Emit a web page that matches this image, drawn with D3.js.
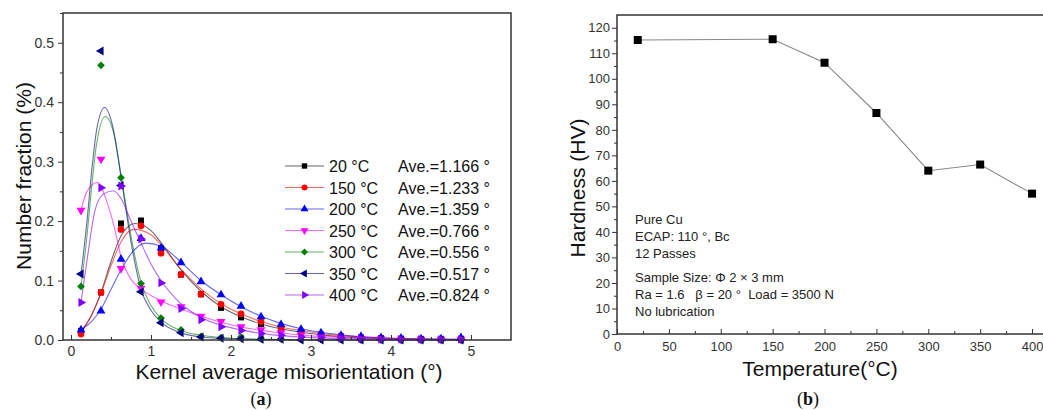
<!DOCTYPE html>
<html>
<head>
<meta charset="utf-8">
<script src="https://cdn.jsdelivr.net/npm/d3@7"></script>
<style>
  body { margin: 0; background: #fff; }
  svg { display: block; font-family: Arial, "Liberation Sans", sans-serif; }
</style>
</head>
<body>
<svg id="chart" width="1043" height="410"></svg>
<script>
// ---------- panel (a) data ----------
const binCenters = [0.125, 0.375, 0.625, 0.875, 1.125, 1.375, 1.625, 1.875, 2.125, 2.375,
                    2.625, 2.875, 3.125, 3.375, 3.625, 3.875, 4.125, 4.375, 4.625, 4.875];
const seriesNames = ["20 °C", "150 °C", "200 °C", "250 °C", "300 °C", "350 °C", "400 °C"];
const averages = ["Ave.=1.166 °", "Ave.=1.233 °", "Ave.=1.359 °", "Ave.=0.766 °", "Ave.=0.556 °", "Ave.=0.517 °", "Ave.=0.824 °"];

const frac20  = [0.015, 0.080, 0.196, 0.201, 0.154, 0.110, 0.077, 0.054, 0.038, 0.027, 0.018, 0.013, 0.009, 0.006, 0.004, 0.003, 0.002, 0.001, 0.001, 0.001];
const frac150 = [0.010, 0.080, 0.186, 0.192, 0.146, 0.110, 0.077, 0.060, 0.044, 0.031, 0.021, 0.015, 0.010, 0.007, 0.005, 0.003, 0.002, 0.001, 0.001, 0.001];
const frac200 = [0.017, 0.049, 0.136, 0.171, 0.155, 0.130, 0.098, 0.076, 0.057, 0.039, 0.026, 0.018, 0.012, 0.008, 0.006, 0.004, 0.003, 0.002, 0.002, 0.004];
const frac250 = [0.218, 0.304, 0.120, 0.087, 0.064, 0.056, 0.040, 0.031, 0.022, 0.017, 0.012, 0.008, 0.005, 0.003, 0.002, 0.002, 0.001, 0.001, 0.001, 0.001];
const frac300 = [0.090, 0.462, 0.273, 0.095, 0.037, 0.017, 0.006, 0.004, 0.005, 0.003, 0.002, 0.001, 0.001, 0.001, 0.000, 0.000, 0.000, 0.000, 0.000, 0.000];
const frac350 = [0.111, 0.486, 0.260, 0.081, 0.029, 0.012, 0.005, 0.003, 0.002, 0.001, 0.001, 0.000, 0.000, 0.000, 0.000, 0.000, 0.000, 0.000, 0.000, 0.000];
const frac400 = [0.063, 0.256, 0.259, 0.170, 0.096, 0.053, 0.034, 0.022, 0.016, 0.011, 0.008, 0.005, 0.004, 0.003, 0.002, 0.001, 0.001, 0.001, 0.001, 0.001];

// fitted curves as [misorientation, fraction]
const fit20  = [[0.125,0.015],[0.25,0.04],[0.375,0.08],[0.5,0.132],[0.625,0.175],[0.8,0.196],[1.0,0.184],[1.125,0.164],[1.375,0.118],[1.625,0.082],[1.875,0.056],[2.125,0.039],[2.375,0.027],[2.625,0.019],[2.875,0.013],[3.25,0.007],[3.75,0.003],[4.25,0.0015],[4.875,0.0005]];
const fit150 = [[0.125,0.012],[0.25,0.04],[0.375,0.078],[0.5,0.125],[0.625,0.165],[0.78,0.186],[1.0,0.177],[1.125,0.16],[1.375,0.119],[1.625,0.086],[1.875,0.061],[2.125,0.044],[2.375,0.031],[2.625,0.022],[2.875,0.016],[3.25,0.009],[3.75,0.004],[4.25,0.002],[4.875,0.001]];
const fit200 = [[0.125,0.017],[0.25,0.03],[0.375,0.052],[0.5,0.085],[0.625,0.118],[0.75,0.145],[0.93,0.163],[1.125,0.158],[1.375,0.131],[1.625,0.1],[1.875,0.076],[2.125,0.056],[2.375,0.04],[2.625,0.028],[2.875,0.019],[3.125,0.013],[3.5,0.007],[4.0,0.003],[4.5,0.0015],[4.875,0.001]];
const fit250 = [[0.125,0.218],[0.2,0.25],[0.33,0.265],[0.45,0.232],[0.55,0.185],[0.625,0.14],[0.75,0.102],[0.875,0.086],[1.125,0.066],[1.375,0.052],[1.625,0.04],[1.875,0.03],[2.125,0.022],[2.5,0.014],[3.0,0.007],[3.5,0.004],[4.0,0.002],[4.875,0.0007]];
const fit300 = [[0.125,0.09],[0.2,0.175],[0.26,0.26],[0.32,0.33],[0.43,0.376],[0.53,0.35],[0.64,0.265],[0.75,0.175],[0.875,0.097],[1.0,0.058],[1.125,0.036],[1.375,0.016],[1.625,0.008],[2.0,0.003],[2.5,0.001],[3.0,0.0003],[4.875,0]];
const fit350 = [[0.125,0.11],[0.2,0.2],[0.26,0.286],[0.32,0.353],[0.42,0.391],[0.52,0.36],[0.63,0.27],[0.75,0.165],[0.875,0.085],[1.0,0.05],[1.125,0.03],[1.375,0.012],[1.625,0.005],[2.0,0.002],[2.5,0.0005],[3.0,0],[4.875,0]];
const fit400 = [[0.125,0.063],[0.2,0.134],[0.3,0.218],[0.4,0.245],[0.53,0.251],[0.625,0.238],[0.75,0.2],[0.875,0.163],[1.0,0.128],[1.125,0.1],[1.375,0.061],[1.625,0.038],[1.875,0.025],[2.125,0.017],[2.5,0.009],[3.0,0.004],[3.5,0.002],[4.0,0.001],[4.875,0.0003]];

// ---------- panel (b) data ----------
const temps = [20, 150, 200, 250, 300, 350, 400];
const hardness = [115.2, 115.5, 106.3, 86.6, 64.0, 66.4, 55.0];
const noteLines = ["Pure Cu", "ECAP: 110 °, Bc", "12 Passes", "Sample Size: Φ 2 × 3 mm", "Ra = 1.6   β = 20 °  Load = 3500 N", "No lubrication"];

const colors = ["#000000", "#ff0000", "#0000ff", "#ff00ff", "#008000", "#000080", "#8000ff"];
const symbols = [
  {type: d3.symbolSquare, rot: 0, size: 36},
  {type: d3.symbolCircle, rot: 0, size: 36},
  {type: d3.symbolTriangle, rot: 0, size: 34},
  {type: d3.symbolTriangle, rot: 180, size: 34},
  {type: d3.symbolSquare, rot: 45, size: 30},
  {type: d3.symbolTriangle, rot: -90, size: 34},
  {type: d3.symbolTriangle, rot: 90, size: 34}
];
const fracs = [frac20, frac150, frac200, frac250, frac300, frac350, frac400];
const fits = [fit20, fit150, fit200, fit250, fit300, fit350, fit400];

const svg = d3.select("#chart");
const axisColor = "#333";

// ================= panel (a) =================
const xA = d3.scaleLinear().domain([-0.1, 5.5]).range([63, 511]);
const yA = d3.scaleLinear().domain([0, 0.55]).range([340, 13]);

const gA = svg.append("g");

// fitted curves
const fitLine = d3.line()
  .x(d => xA(d[0]))
  .y(d => yA(d[1]))
  .curve(d3.curveMonotoneX);

fits.forEach((f, i) => {
  gA.append("path")
    .attr("d", fitLine(f))
    .attr("fill", "none")
    .attr("stroke", colors[i])
    .attr("stroke-opacity", 0.6)
    .attr("stroke-width", 1.1);
});

// markers
fracs.forEach((vals, i) => {
  const sym = d3.symbol().type(symbols[i].type).size(symbols[i].size);
  gA.selectAll(".m" + i)
    .data(vals)
    .enter().append("path")
    .attr("d", sym)
    .attr("transform", (d, j) => "translate(" + xA(binCenters[j]) + "," + yA(d) + ") rotate(" + symbols[i].rot + ")")
    .attr("fill", colors[i]);
});

// y axis (ticks outward)
gA.append("g")
  .attr("transform", "translate(63,0)")
  .call(d3.axisLeft(yA).tickValues(d3.range(0, 0.551, 0.05)).tickSize(0).tickFormat(""))
  .call(g => g.select(".domain").remove())
  .call(g => g.selectAll(".tick line").attr("x2", (d, i) => i % 2 ? -3 : -5).attr("stroke", axisColor));
gA.append("g")
  .attr("transform", "translate(63,0)")
  .call(d3.axisLeft(yA).tickValues([0, 0.1, 0.2, 0.3, 0.4, 0.5]).tickSize(0).tickPadding(9).tickFormat(d3.format(".1f")))
  .call(g => g.select(".domain").remove())
  .call(g => g.selectAll("text").attr("font-size", 14).attr("fill", axisColor).attr("font-family", "Arial, 'Liberation Sans', sans-serif"));

// x axis (ticks inward)
gA.append("g")
  .attr("transform", "translate(0,340)")
  .call(d3.axisBottom(xA).tickValues(d3.range(0, 5.01, 0.5)).tickSize(0).tickFormat(""))
  .call(g => g.select(".domain").remove())
  .call(g => g.selectAll(".tick line").attr("y2", (d, i) => i % 2 ? -3 : -5).attr("stroke", axisColor));
gA.append("g")
  .attr("transform", "translate(0,340)")
  .call(d3.axisBottom(xA).tickValues([0, 1, 2, 3, 4, 5]).tickSize(0).tickPadding(6).tickFormat(d3.format("d")))
  .call(g => g.select(".domain").remove())
  .call(g => g.selectAll("text").attr("font-size", 14).attr("fill", axisColor).attr("font-family", "Arial, 'Liberation Sans', sans-serif"));

// frame
gA.append("rect")
  .attr("x", 63).attr("y", 13).attr("width", 448).attr("height", 327)
  .attr("fill", "none").attr("stroke", axisColor).attr("stroke-width", 1.5);

// axis titles
gA.append("text")
  .attr("x", 289).attr("y", 379)
  .attr("text-anchor", "middle").attr("font-size", 21).attr("fill", "#111")
  .text("Kernel average misorientation (°)");
gA.append("text")
  .attr("transform", "translate(31,176) rotate(-90)")
  .attr("text-anchor", "middle").attr("font-size", 21).attr("fill", "#111")
  .text("Number fraction (%)");

// legend
const legend = gA.append("g");
seriesNames.forEach((name, i) => {
  const yy = 166 + i * 21.5;
  const sym = d3.symbol().type(symbols[i].type).size(symbols[i].size * 0.8);
  legend.append("line")
    .attr("x1", 285).attr("x2", 324).attr("y1", yy).attr("y2", yy)
    .attr("stroke", colors[i]).attr("stroke-opacity", 0.6).attr("stroke-width", 1.1);
  legend.append("path")
    .attr("d", sym)
    .attr("transform", "translate(304.5," + yy + ") rotate(" + symbols[i].rot + ")")
    .attr("fill", colors[i]);
  legend.append("text")
    .attr("x", 329).attr("y", yy + 6)
    .attr("font-size", 16).attr("fill", "#111")
    .text(name);
  legend.append("text")
    .attr("x", 398).attr("y", yy + 6)
    .attr("font-size", 16).attr("fill", "#111")
    .text(averages[i]);
});

// panel label
svg.append("text")
  .attr("x", 261).attr("y", 405)
  .attr("text-anchor", "middle")
  .attr("font-family", "'Liberation Serif', 'DejaVu Serif', serif")
  .attr("font-size", 18).attr("fill", "#111")
  .html("(<tspan font-weight='bold'>a</tspan>)");

// ================= panel (b) =================
const xB = d3.scaleLinear().domain([0, 425]).range([617, 1058]);
const yB = d3.scaleLinear().domain([0, 125]).range([334, 15]);
const gB = svg.append("g");

// y axis, ticks outward
gB.append("g")
  .attr("transform", "translate(617,0)")
  .call(d3.axisLeft(yB).tickValues(d3.range(0, 121, 5)).tickSize(0).tickFormat(""))
  .call(g => g.select(".domain").remove())
  .call(g => g.selectAll(".tick line").attr("x2", (d, i) => i % 2 ? -3 : -5).attr("stroke", axisColor));
gB.append("g")
  .attr("transform", "translate(617,0)")
  .call(d3.axisLeft(yB).tickValues(d3.range(0, 121, 10)).tickSize(0).tickPadding(7).tickFormat(d3.format("d")))
  .call(g => g.select(".domain").remove())
  .call(g => g.selectAll("text").attr("font-size", 13).attr("fill", axisColor).attr("font-family", "Arial, 'Liberation Sans', sans-serif"));

// x axis, ticks inward
gB.append("g")
  .attr("transform", "translate(0,334)")
  .call(d3.axisBottom(xB).tickValues(d3.range(0, 401, 25)).tickSize(0).tickFormat(""))
  .call(g => g.select(".domain").remove())
  .call(g => g.selectAll(".tick line").attr("y2", (d, i) => i % 2 ? -3 : -5).attr("stroke", axisColor));
gB.append("g")
  .attr("transform", "translate(0,334)")
  .call(d3.axisBottom(xB).tickValues(d3.range(0, 401, 50)).tickSize(0).tickPadding(8).tickFormat(d3.format("d")))
  .call(g => g.select(".domain").remove())
  .call(g => g.selectAll("text").attr("font-size", 13).attr("fill", axisColor).attr("font-family", "Arial, 'Liberation Sans', sans-serif"));

// frame
gB.append("rect")
  .attr("x", 617).attr("y", 15).attr("width", 441).attr("height", 319)
  .attr("fill", "none").attr("stroke", axisColor).attr("stroke-width", 1.5);

// line + markers
gB.append("path")
  .datum(temps.map((t, i) => [t, hardness[i]]))
  .attr("d", d3.line().x(d => xB(d[0])).y(d => yB(d[1])))
  .attr("fill", "none").attr("stroke", "#888").attr("stroke-width", 1.1);
gB.selectAll(".hv")
  .data(temps)
  .enter().append("rect")
  .attr("x", d => xB(d) - 4).attr("y", (d, i) => yB(hardness[i]) - 4)
  .attr("width", 8).attr("height", 8)
  .attr("fill", "#000");

// notes
const noteY = [224, 241, 258, 282, 299, 316];
noteLines.forEach((t, i) => {
  gB.append("text")
    .attr("x", 635).attr("y", noteY[i])
    .attr("font-size", 13).attr("fill", "#222")
    .attr("xml:space", "preserve")
    .style("white-space", "pre")
    .text(t);
});

// axis titles
gB.append("text")
  .attr("x", 820).attr("y", 376)
  .attr("text-anchor", "middle").attr("font-size", 21).attr("fill", "#111")
  .text("Temperature(°C)");
gB.append("text")
  .attr("transform", "translate(585,188) rotate(-90)")
  .attr("text-anchor", "middle").attr("font-size", 21).attr("fill", "#111")
  .text("Hardness (HV)");

svg.append("text")
  .attr("x", 808).attr("y", 405)
  .attr("text-anchor", "middle")
  .attr("font-family", "'Liberation Serif', 'DejaVu Serif', serif")
  .attr("font-size", 18).attr("fill", "#111")
  .html("(<tspan font-weight='bold'>b</tspan>)");
</script>
</body>
</html>
